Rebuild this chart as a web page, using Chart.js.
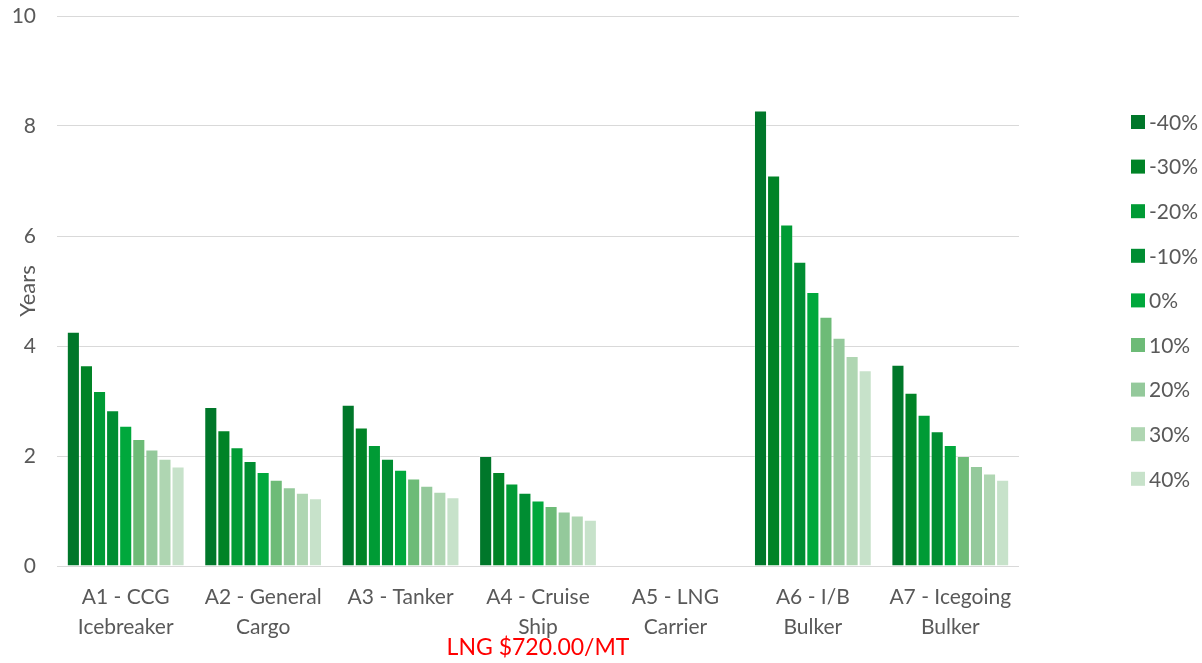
<!DOCTYPE html>
<html>
<head>
<meta charset="utf-8">
<script src="https://cdn.jsdelivr.net/npm/chart.js@4/dist/chart.umd.min.js"></script>
<style>
  html, body { margin: 0; padding: 0; background: #ffffff; }
  #wrap { width: 1202px; height: 663px; position: relative; }
</style>
</head>
<body>
<div id="wrap"><canvas id="chart" width="1202" height="663"></canvas></div>
<script>
// Vessel categories (multi-line axis labels)
const categories = [
  ['A1 - CCG', 'Icebreaker'],
  ['A2 - General', 'Cargo'],
  ['A3 - Tanker'],
  ['A4 - Cruise', 'Ship'],
  ['A5 - LNG', 'Carrier'],
  ['A6 - I/B', 'Bulker'],
  ['A7 - Icegoing', 'Bulker']
];

// Price-change scenarios
const scenarioLabels = ['-40%', '-30%', '-20%', '-10%', '0%', '10%', '20%', '30%', '40%'];
const scenarioColors = ['#00772a', '#008326', '#009b35', '#008d32', '#00a83c', '#6dbb77', '#94c99b', '#afd6b2', '#c7e2ca'];

// Payback period (years) per category, one array per scenario
const minus40 = [4.26, 2.89, 2.93, 2.00, null, 8.28, 3.66];
const minus30 = [3.65, 2.47, 2.52, 1.71, null, 7.10, 3.15];
const minus20 = [3.18, 2.16, 2.20, 1.50, null, 6.21, 2.75];
const minus10 = [2.83, 1.91, 1.95, 1.33, null, 5.53, 2.45];
const zero    = [2.55, 1.71, 1.75, 1.19, null, 4.98, 2.20];
const plus10  = [2.31, 1.57, 1.59, 1.09, null, 4.53, 2.00];
const plus20  = [2.12, 1.43, 1.46, 0.99, null, 4.15, 1.82];
const plus30  = [1.95, 1.33, 1.35, 0.92, null, 3.82, 1.68];
const plus40  = [1.81, 1.23, 1.25, 0.84, null, 3.56, 1.57];

const yTicks = [0, 2, 4, 6, 8, 10];
const yTitle = 'Years';
const footnote = 'LNG $720.00/MT';

const seriesValues = [minus40, minus30, minus20, minus10, zero, plus10, plus20, plus30, plus40];

const FONT = 'Lato, "Open Sans", sans-serif';
const TEXT = '#595959';

// Legend drawn down the right-hand side
const sideLegend = {
  id: 'sideLegend',
  afterDraw(chart) {
    const ctx = chart.ctx;
    ctx.save();
    ctx.font = '21px ' + FONT;
    ctx.textBaseline = 'middle';
    ctx.textAlign = 'left';
    chart.data.datasets.forEach((ds, i) => {
      const cy = 122 + i * 44.6;
      ctx.fillStyle = ds.backgroundColor;
      ctx.fillRect(1131, cy - 7, 14, 14);
      ctx.fillStyle = TEXT;
      ctx.fillText(ds.label, 1149, cy + 1);
    });
    ctx.restore();
  }
};

// Red price note under the category axis
const priceNote = {
  id: 'priceNote',
  afterDraw(chart) {
    const ctx = chart.ctx;
    ctx.save();
    ctx.font = '23px ' + FONT;
    ctx.fillStyle = '#ff0000';
    ctx.textAlign = 'center';
    ctx.textBaseline = 'middle';
    ctx.fillText(footnote, 538, 648);
    ctx.restore();
  }
};

const whiteBg = {
  id: 'whiteBg',
  beforeDraw(chart) {
    const ctx = chart.ctx;
    ctx.save();
    ctx.fillStyle = '#ffffff';
    ctx.fillRect(0, 0, chart.width, chart.height);
    ctx.restore();
  }
};

new Chart(document.getElementById('chart'), {
  type: 'bar',
  data: {
    labels: categories,
    datasets: scenarioLabels.map((label, i) => ({
      label: label,
      data: seriesValues[i],
      backgroundColor: scenarioColors[i],
      borderColor: 'rgba(255,255,255,0.3)',
      borderWidth: 1,
      barPercentage: 1.0,
      categoryPercentage: 0.857
    }))
  },
  options: {
    responsive: false,
    animation: false,
    layout: { padding: { top: 16, right: 183, left: 0, bottom: 0 } },
    plugins: {
      legend: { display: false },
      tooltip: { enabled: false }
    },
    scales: {
      x: {
        grid: { display: false, drawTicks: false },
        border: { display: false },
        ticks: {
          color: TEXT,
          font: { family: FONT, size: 21, lineHeight: 1.43 },
          padding: 16,
          maxRotation: 0,
          autoSkip: false
        },
        afterFit(scale) {
          scale.height = 97;
          scale.paddingLeft = 0;
          scale.paddingRight = 0;
        }
      },
      y: {
        min: 0,
        max: 10,
        afterBuildTicks(scale) { scale.ticks = yTicks.map(v => ({ value: v })); },
        grid: { color: '#d9d9d9', lineWidth: 1, drawTicks: false },
        border: { display: false },
        ticks: {
          color: TEXT,
          font: { family: FONT, size: 21 },
          padding: 21
        },
        title: {
          display: true,
          text: yTitle,
          color: TEXT,
          font: { family: FONT, size: 22 },
          padding: { top: 15, bottom: 0 }
        },
        afterFit(scale) {
          scale.width = 57;
          scale.paddingTop = 0;
          scale.paddingBottom = 0;
        }
      }
    }
  },
  plugins: [whiteBg, sideLegend, priceNote]
});
</script>
</body>
</html>
